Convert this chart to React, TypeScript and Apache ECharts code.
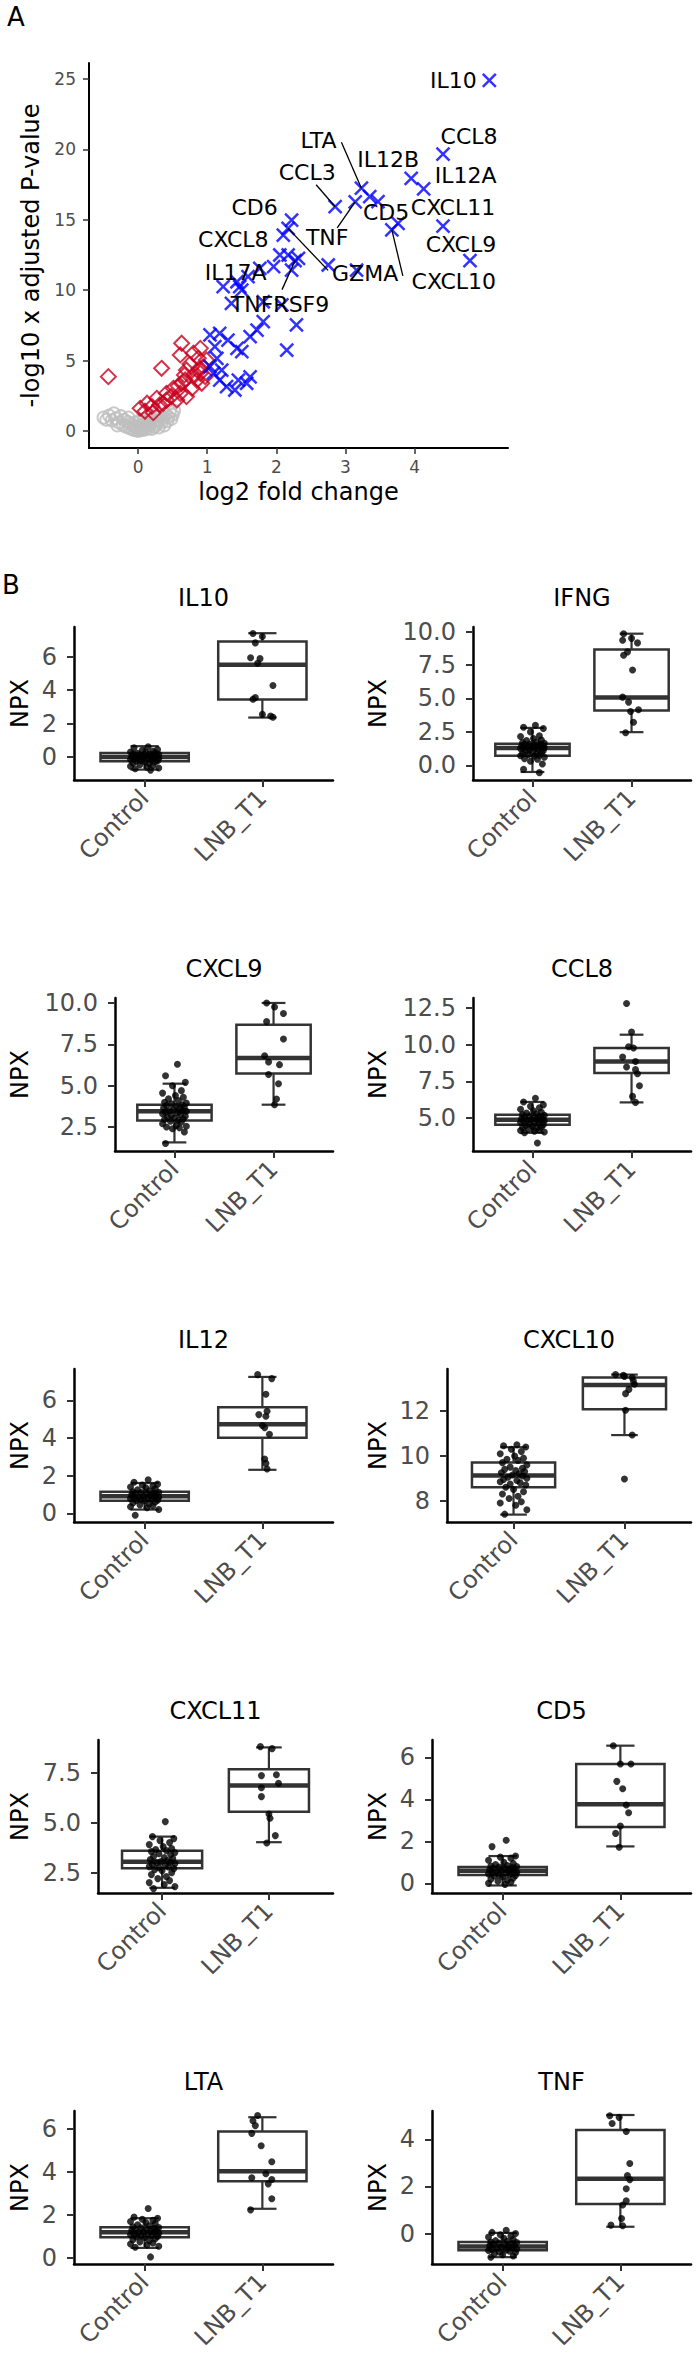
import React, { useEffect, useRef } from 'react';
import * as echarts from 'echarts';

const FONT = 'DejaVu Sans';
const TICK_GREY = '#4D4D4D';
const BOX_LINE = '#333333';

// ---------- Panel A: volcano plot (log2 fold change, -log10 adjusted p) ----------
// Not significant proteins (grey open circles)
const GREY_POINTS: number[][] = [
  [-0.5, 0.95], [-0.46, 0.8], [-0.42, 1.1], [-0.38, 0.75], [-0.35, 1.25], [-0.32, 0.9], [-0.28, 0.6],
  [-0.25, 1.05], [-0.22, 0.45], [-0.2, 0.8], [-0.18, 0.3], [-0.15, 0.65], [-0.12, 0.2], [-0.1, 0.5],
  [-0.08, 0.1], [-0.06, 0.35], [-0.04, 0.05], [-0.02, 0.25], [0.0, 0.0], [0.02, 0.15], [0.04, 0.4],
  [0.05, 0.05], [0.07, 0.25], [0.09, 0.55], [0.1, 0.1], [0.12, 0.35], [0.14, 0.7], [0.15, 0.2],
  [0.17, 0.45], [0.19, 0.85], [0.2, 0.15], [0.22, 0.6], [0.24, 0.3], [0.25, 1.0], [0.27, 0.5],
  [0.29, 0.75], [0.3, 0.25], [0.32, 1.1], [0.34, 0.6], [0.36, 0.9], [0.38, 0.4], [0.4, 1.2],
  [0.42, 0.7], [0.44, 1.0], [0.46, 1.35], [0.48, 0.85], [0.5, 1.15], [0.52, 1.45], [-0.3, 0.4],
  [-0.14, 0.95], [0.01, 0.7], [0.08, 0.85], [0.18, 1.1], [0.28, 1.25], [-0.05, 0.6],
];
// Significant, moderate fold change (red open diamonds)
const RED_POINTS: number[][] = [
  [-0.43, 3.86], [0.63, 6.23], [0.61, 5.4], [0.9, 5.87], [0.8, 5.52], [0.87, 5.16], [0.99, 5.04],
  [0.34, 4.45], [0.7, 4.33], [0.94, 4.57], [0.8, 3.98], [0.9, 4.1], [0.97, 3.86], [0.67, 3.98],
  [0.63, 3.39], [0.68, 3.62], [0.92, 3.39], [0.78, 3.03], [0.51, 3.03], [0.41, 2.67], [0.61, 2.67],
  [0.7, 2.44], [0.27, 2.32], [0.56, 2.2], [0.41, 2.2], [0.13, 1.97], [0.31, 1.85], [0.03, 1.61],
  [0.2, 1.75], [0.48, 2.45], [0.85, 3.6], [0.75, 4.75], [0.58, 3.2], [0.36, 1.95], [0.88, 4.4],
  [0.1, 1.4], [0.22, 1.3],
];
// Significant, large fold change (blue crosses), unlabelled
const BLUE_POINTS: number[][] = [
  [3.35, 16.65], [3.47, 16.3], [2.05, 12.5], [2.17, 12.5], [2.32, 12.26], [1.96, 11.67], [2.22, 11.43],
  [1.76, 11.55], [1.59, 10.96], [1.43, 10.6], [1.23, 10.25], [1.5, 10.0], [1.35, 9.07], [1.81, 9.18],
  [2.75, 11.79], [3.16, 11.43], [2.29, 7.53], [1.81, 7.76], [1.72, 7.17], [1.62, 6.7], [2.15, 5.75],
  [1.04, 6.82], [1.18, 6.94], [1.3, 6.46], [1.43, 5.87], [1.5, 5.63], [1.14, 5.16], [1.04, 4.57],
  [1.21, 4.33], [1.09, 4.1], [1.18, 3.62], [1.45, 3.62], [1.57, 3.39], [1.4, 2.91], [1.28, 3.15],
  [1.11, 5.99], [1.62, 3.85], [2.08, 8.95],
];
// Labelled hits
const HIT_GENES = ['IL10', 'CCL8', 'IL12B', 'IL12A', 'CXCL11', 'CXCL9', 'CXCL10', 'CD5', 'LTA', 'CCL3', 'TNF', 'CD6', 'CXCL8', 'GZMA', 'IL17A', 'TNFRSF9'];
const HIT_LOG2FC = [5.08, 4.41, 3.95, 4.13, 4.41, 4.8, 3.67, 3.76, 3.23, 2.85, 3.14, 2.22, 2.1, 2.17, 1.47, 2.27];
const HIT_LOGP = [24.9, 19.67, 17.95, 17.2, 14.56, 12.1, 14.28, 14.75, 17.25, 15.93, 16.28, 14.98, 13.92, 14.39, 10.25, 12.1];
const VOLCANO_X_TICKS = [0, 1, 2, 3, 4];
const VOLCANO_Y_TICKS = [0, 5, 10, 15, 20, 25];

// Repelled label placement (pixel offsets from the point, optional leader-line end)
const HIT_LABEL_LAYOUT: Record<string, { dx: number; dy: number; lx?: number; ly?: number }> = {
  IL10: { dx: -36, dy: 0 },
  CCL8: { dx: 26, dy: -18 },
  IL12B: { dx: -23, dy: -19 },
  IL12A: { dx: 42, dy: -13 },
  CXCL11: { dx: 10, dy: -19 },
  CXCL9: { dx: -9, dy: -16 },
  CXCL10: { dx: 62, dy: 52, lx: 11, ly: 46 },
  CD5: { dx: -12, dy: -11 },
  LTA: { dx: -43, dy: -48, lx: -20, ly: -46 },
  CCL3: { dx: -28, dy: -34, lx: -19, ly: -22 },
  TNF: { dx: -28, dy: 36, lx: -18, ly: 26 },
  CD6: { dx: -37, dy: -13 },
  CXCL8: { dx: -50, dy: 4 },
  GZMA: { dx: 77, dy: 45, lx: 40, ly: 42 },
  IL17A: { dx: -4, dy: -14 },
  TNFRSF9: { dx: -15, dy: 44, lx: -13, ly: 29 },
};

// ---------- Panel B: NPX boxplots per protein ----------
const GROUPS = ['Control', 'LNB_T1'];
const PROTEINS = ['IL10', 'IFNG', 'CXCL9', 'CCL8', 'IL12', 'CXCL10', 'CXCL11', 'CD5', 'LTA', 'TNF'];

// Box statistics per group: [lower whisker, Q1, median, Q3, upper whisker]
const IL10_BOX = [[-0.75, -0.25, 0.0, 0.25, 0.65], [2.36, 3.44, 5.52, 6.9, 7.4]];
const IFNG_BOX = [[-0.5, 0.72, 1.3, 1.62, 2.8], [2.48, 4.11, 5.07, 8.66, 9.85]];
const CXCL9_BOX = [[1.57, 2.9, 3.45, 3.85, 5.12], [3.85, 5.73, 6.67, 8.69, 10.0]];
const CCL8_BOX = [[4.0, 4.55, 4.89, 5.23, 6.1], [6.07, 8.07, 8.86, 9.77, 10.68]];
const IL12_BOX = [[0.2, 0.67, 0.9, 1.15, 1.61], [2.31, 4.01, 4.73, 5.63, 7.24]];
const CXCL10_BOX = [[7.38, 8.6, 9.13, 9.71, 10.39], [10.93, 12.08, 13.17, 13.5, 13.63]];
const CXCL11_BOX = [[1.74, 2.72, 3.04, 3.59, 4.3], [4.02, 5.54, 6.85, 7.67, 8.76]];
const CD5_BOX = [[-0.1, 0.4, 0.6, 0.78, 1.3], [1.76, 2.69, 3.77, 5.69, 6.56]];
const LTA_BOX = [[0.47, 0.96, 1.2, 1.43, 1.85], [2.29, 3.57, 4.04, 5.89, 6.55]];
const TNF_BOX = [[-1.0, -0.71, -0.55, -0.36, 0.03], [0.29, 1.26, 2.33, 4.39, 5.03]];

// Control NPX values
const IL10_CONTROL = [0.62, 0.55, 0.45, 0.4, 0.35, 0.3, 0.28, 0.25, 0.22, 0.2, 0.18, 0.15, 0.12, 0.1, 0.08, 0.05, 0.03, 0.02, 0.0, -0.02, -0.04, -0.05, -0.08, -0.1, -0.12, -0.15, -0.18, -0.2, -0.22, -0.25, -0.28, -0.3, -0.35, -0.4, -0.45, -0.5, -0.55, -0.6, -0.65, -0.7, -0.78, 0.0, 0.1, -0.1, 0.05];
const IFNG_CONTROL = [3.0, 2.85, 2.75, 2.5, 2.2, 2.15, 2.0, 1.9, 1.85, 1.75, 1.7, 1.65, 1.6, 1.58, 1.55, 1.5, 1.48, 1.45, 1.42, 1.4, 1.38, 1.35, 1.32, 1.3, 1.28, 1.25, 1.2, 1.15, 1.1, 1.05, 1.0, 0.95, 0.9, 0.85, 0.8, 0.75, 0.72, 0.7, 0.6, 0.5, 0.45, 0.3, 0.1, -0.3, -0.55];
const CXCL9_CONTROL = [6.3, 5.6, 5.2, 5.0, 4.7, 4.55, 4.4, 4.3, 4.2, 4.1, 4.0, 3.95, 3.9, 3.85, 3.8, 3.75, 3.7, 3.65, 3.6, 3.55, 3.5, 3.48, 3.45, 3.4, 3.35, 3.3, 3.25, 3.2, 3.15, 3.1, 3.05, 3.0, 2.95, 2.9, 2.85, 2.8, 2.7, 2.6, 2.55, 2.5, 2.45, 2.4, 2.2, 1.5];
const CCL8_CONTROL = [6.35, 6.1, 5.9, 5.8, 5.7, 5.6, 5.5, 5.4, 5.35, 5.3, 5.25, 5.2, 5.15, 5.1, 5.05, 5.0, 4.98, 4.95, 4.92, 4.9, 4.88, 4.85, 4.82, 4.8, 4.75, 4.7, 4.65, 4.6, 4.55, 4.5, 4.45, 4.4, 4.35, 4.3, 4.25, 4.2, 4.15, 4.1, 4.05, 4.0, 3.3];
const IL12_CONTROL = [1.78, 1.65, 1.55, 1.5, 1.45, 1.4, 1.35, 1.3, 1.25, 1.2, 1.15, 1.12, 1.1, 1.08, 1.05, 1.02, 1.0, 0.98, 0.95, 0.92, 0.9, 0.88, 0.85, 0.82, 0.8, 0.78, 0.75, 0.72, 0.7, 0.68, 0.65, 0.6, 0.55, 0.5, 0.45, 0.4, 0.35, 0.3, 0.2, -0.1];
const CXCL10_CONTROL = [10.5, 10.45, 10.4, 10.3, 10.2, 10.1, 10.0, 9.9, 9.85, 9.8, 9.7, 9.6, 9.5, 9.45, 9.4, 9.35, 9.3, 9.25, 9.2, 9.15, 9.1, 9.05, 9.0, 8.95, 8.9, 8.85, 8.8, 8.75, 8.7, 8.6, 8.5, 8.4, 8.3, 8.2, 8.1, 7.95, 7.9, 7.8, 7.6, 7.4];
const CXCL11_CONTROL = [5.05, 4.3, 4.2, 4.1, 4.0, 3.9, 3.8, 3.7, 3.65, 3.6, 3.55, 3.5, 3.45, 3.4, 3.3, 3.25, 3.2, 3.15, 3.1, 3.05, 3.02, 3.0, 2.95, 2.9, 2.85, 2.8, 2.78, 2.75, 2.7, 2.65, 2.6, 2.5, 2.4, 2.3, 2.2, 2.1, 2.0, 1.9, 1.8, 1.7];
const CD5_CONTROL = [2.05, 1.75, 1.3, 1.25, 1.2, 1.1, 1.0, 0.95, 0.9, 0.85, 0.82, 0.8, 0.78, 0.75, 0.72, 0.7, 0.68, 0.65, 0.62, 0.6, 0.58, 0.55, 0.52, 0.5, 0.48, 0.45, 0.42, 0.4, 0.38, 0.35, 0.3, 0.25, 0.2, 0.15, 0.1, 0.05, 0.0, -0.05];
const LTA_CONTROL = [2.3, 1.9, 1.85, 1.8, 1.75, 1.7, 1.65, 1.6, 1.55, 1.5, 1.45, 1.42, 1.4, 1.38, 1.35, 1.32, 1.3, 1.28, 1.25, 1.22, 1.2, 1.18, 1.15, 1.12, 1.1, 1.08, 1.05, 1.02, 1.0, 0.98, 0.95, 0.9, 0.85, 0.8, 0.75, 0.7, 0.65, 0.6, 0.55, 0.5, 0.05];
const TNF_CONTROL = [0.14, 0.05, 0.0, -0.05, -0.1, -0.15, -0.2, -0.25, -0.3, -0.33, -0.36, -0.38, -0.4, -0.42, -0.45, -0.48, -0.5, -0.52, -0.55, -0.57, -0.6, -0.62, -0.65, -0.68, -0.7, -0.72, -0.75, -0.78, -0.8, -0.85, -0.9, -0.95, -1.0];

// LNB_T1 NPX values as [horizontal jitter, NPX]
const IL10_LNB = [[-0.08, 7.38], [0.0, 7.2], [-0.06, 6.82], [-0.1, 5.93], [-0.02, 5.88], [-0.04, 5.6], [0.09, 4.27], [-0.06, 3.55], [-0.08, 3.45], [0.0, 2.55], [0.07, 2.45], [0.09, 2.38]];
const IFNG_LNB = [[-0.08, 9.85], [0.0, 9.5], [-0.09, 9.36], [0.06, 9.16], [-0.04, 8.49], [-0.08, 8.24], [0.01, 7.13], [-0.09, 5.1], [-0.03, 4.73], [0.07, 4.16], [-0.01, 4.03], [0.02, 3.22], [-0.06, 2.43]];
const CXCL9_LNB = [[-0.07, 10.0], [0.01, 9.76], [0.1, 9.36], [-0.07, 8.87], [0.1, 7.82], [-0.09, 6.81], [-0.05, 6.43], [0.06, 6.27], [-0.05, 5.67], [0.05, 5.12], [0.03, 4.19], [0.01, 3.85]];
const CCL8_LNB = [[-0.05, 12.8], [0.0, 10.86], [-0.03, 9.86], [0.02, 9.77], [-0.09, 9.16], [0.04, 8.86], [-0.05, 8.48], [0.04, 8.3], [0.06, 8.02], [0.08, 7.2], [0.01, 6.48], [0.04, 6.07]];
const IL12_LNB = [[-0.04, 7.36], [0.08, 7.15], [0.03, 6.32], [0.04, 5.42], [-0.03, 5.24], [0.03, 5.15], [0.0, 4.66], [0.02, 4.55], [0.06, 4.2], [0.02, 2.88], [0.03, 2.65], [0.04, 2.35]];
const CXCL10_LNB = [[-0.08, 13.63], [0.0, 13.55], [0.07, 13.5], [-0.01, 13.6], [0.09, 13.2], [0.08, 13.35], [0.04, 12.97], [0.01, 12.78], [0.01, 12.04], [0.07, 10.93], [0.0, 8.97]];
const CXCL11_LNB = [[-0.08, 8.8], [0.03, 8.7], [-0.07, 7.35], [0.07, 7.39], [0.09, 6.96], [-0.07, 6.74], [-0.07, 6.3], [0.0, 5.43], [0.01, 5.22], [0.06, 4.35], [-0.02, 3.98]];
const CD5_LNB = [[-0.06, 6.56], [0.0, 5.69], [0.09, 5.69], [-0.03, 4.86], [0.02, 4.51], [0.05, 3.73], [0.07, 3.36], [0.0, 2.73], [-0.04, 2.38], [-0.01, 1.72]];
const LTA_LNB = [[-0.04, 6.63], [-0.08, 6.39], [-0.06, 6.16], [-0.09, 5.8], [-0.01, 5.22], [0.08, 4.48], [0.03, 3.92], [-0.09, 3.73], [0.08, 3.65], [0.05, 3.45], [0.08, 2.76], [-0.1, 2.24]];
const TNF_LNB = [[-0.09, 5.0], [-0.01, 4.93], [-0.07, 4.67], [0.05, 4.33], [0.08, 2.97], [0.06, 2.46], [0.08, 2.29], [0.05, 1.9], [0.05, 1.39], [0.02, 1.21], [0.01, 0.64], [-0.08, 0.36], [0.02, 0.33]];

// Horizontal jitter for the control dots (category units)
const JITTER = [0.03, -0.09, 0.11, -0.02, 0.07, -0.12, 0.01, 0.09, -0.06, 0.04, -0.1, 0.12, -0.03, 0.08, -0.08, 0.02, 0.1, -0.11, 0.05, -0.01, 0.08, -0.05, 0.12, -0.09, 0.03, -0.12, 0.06, -0.03, 0.11, -0.07, 0.0, 0.09, -0.1, 0.04, -0.04, 0.07, -0.12, 0.02, 0.12, -0.08, 0.05, -0.02, 0.1, -0.09, 0.07, -0.04, 0.09, -0.06];

// Y axis scale per protein
const Y_MIN = [-1.37, -1.1, 1.05, 2.76, -0.46, 7.05, 1.48, -0.46, -0.28, -1.29];
const Y_MAX = [7.77, 10.35, 10.3, 13.18, 7.66, 13.88, 9.13, 6.83, 6.84, 5.2];
const Y_TICKS = [
  [0, 2, 4, 6], [0, 2.5, 5, 7.5, 10], [2.5, 5, 7.5, 10], [5, 7.5, 10, 12.5], [0, 2, 4, 6],
  [8, 10, 12], [2.5, 5, 7.5], [0, 2, 4, 6], [0, 2, 4, 6], [0, 2, 4],
];
const Y_DECIMALS = [0, 1, 1, 1, 0, 0, 1, 0, 0, 0];

const BOXES = [IL10_BOX, IFNG_BOX, CXCL9_BOX, CCL8_BOX, IL12_BOX, CXCL10_BOX, CXCL11_BOX, CD5_BOX, LTA_BOX, TNF_BOX];
const CONTROLS = [IL10_CONTROL, IFNG_CONTROL, CXCL9_CONTROL, CCL8_CONTROL, IL12_CONTROL, CXCL10_CONTROL, CXCL11_CONTROL, CD5_CONTROL, LTA_CONTROL, TNF_CONTROL];
const LNBS = [IL10_LNB, IFNG_LNB, CXCL9_LNB, CCL8_LNB, IL12_LNB, CXCL10_LNB, CXCL11_LNB, CD5_LNB, LTA_LNB, TNF_LNB];

// Panel placement: plot-area left edge per panel, 2 columns x 5 rows
const PANEL_LEFT = [74, 473, 115, 473, 74, 447, 98, 432, 74, 432];
const COL_RIGHT = [333, 691];
const COL_NAME_X = [20, 378];
const ROW_TITLE_Y = [598, 969, 1340, 1711, 2082];
const PANEL_HEIGHT = 153;

const CROSS = 'path://M0 0L10 10M10 0L0 10';

function textStyle(text: string, size: number, fill: string, align = 'center') {
  return {
    text,
    fill,
    fontSize: size,
    fontFamily: FONT,
    align,
    textAlign: align,
    verticalAlign: 'middle',
    textVerticalAlign: 'middle',
  };
}

function renderBox(_params: any, api: any) {
  const x = api.value(0);
  const lo = api.value(1);
  const q1 = api.value(2);
  const med = api.value(3);
  const q3 = api.value(4);
  const hi = api.value(5);
  const cx = api.coord([x, med])[0];
  const half = api.size([0.375, 0])[0];
  const cap = api.size([0.12, 0])[0];
  const yLo = api.coord([x, lo])[1];
  const yQ1 = api.coord([x, q1])[1];
  const yMed = api.coord([x, med])[1];
  const yQ3 = api.coord([x, q3])[1];
  const yHi = api.coord([x, hi])[1];
  const line = { stroke: BOX_LINE, lineWidth: 2.2 };
  return {
    type: 'group',
    children: [
      { type: 'line', shape: { x1: cx, y1: yQ3, x2: cx, y2: yHi }, style: line },
      { type: 'line', shape: { x1: cx, y1: yQ1, x2: cx, y2: yLo }, style: line },
      { type: 'line', shape: { x1: cx - cap, y1: yHi, x2: cx + cap, y2: yHi }, style: line },
      { type: 'line', shape: { x1: cx - cap, y1: yLo, x2: cx + cap, y2: yLo }, style: line },
      {
        type: 'rect',
        shape: { x: cx - half, y: yQ3, width: 2 * half, height: yQ1 - yQ3 },
        style: { fill: '#ffffff', stroke: BOX_LINE, lineWidth: 2.5 },
      },
      { type: 'line', shape: { x1: cx - half, y1: yMed, x2: cx + half, y2: yMed }, style: { stroke: BOX_LINE, lineWidth: 4.5 } },
    ],
  };
}

function renderHitLabel(params: any, api: any) {
  const gene = HIT_GENES[params.dataIndex];
  const p = api.coord([api.value(0), api.value(1)]);
  const lay = HIT_LABEL_LAYOUT[gene];
  const children: any[] = [];
  if (lay.lx !== undefined && lay.ly !== undefined) {
    children.push({
      type: 'line',
      shape: { x1: p[0], y1: p[1], x2: p[0] + lay.lx, y2: p[1] + lay.ly },
      style: { stroke: '#000000', lineWidth: 1.3 },
    });
  }
  children.push({
    type: 'text',
    x: p[0] + lay.dx,
    y: p[1] + lay.dy,
    style: textStyle(gene, 22, '#000000'),
  });
  return { type: 'group', children };
}

function buildOption() {
  const grids: any[] = [{ left: 89, top: 63, width: 419, height: 385 }];
  const xAxes: any[] = [
    {
      gridIndex: 0,
      type: 'value',
      min: -0.71,
      max: 5.35,
      splitLine: { show: false },
      axisLine: { onZero: false, lineStyle: { color: '#000000', width: 2 } },
      axisTick: { customValues: VOLCANO_X_TICKS, length: 6, lineStyle: { color: BOX_LINE, width: 1.5 } },
      axisLabel: { customValues: VOLCANO_X_TICKS, fontSize: 17, color: TICK_GREY, fontFamily: FONT, margin: 10 },
      name: 'log2 fold change',
      nameLocation: 'middle',
      nameGap: 32,
      nameTextStyle: { fontSize: 24, color: '#000000', fontFamily: FONT },
    },
  ];
  const yAxes: any[] = [
    {
      gridIndex: 0,
      type: 'value',
      min: -1.21,
      max: 26.14,
      splitLine: { show: false },
      axisLine: { onZero: false, lineStyle: { color: '#000000', width: 2 } },
      axisTick: { customValues: VOLCANO_Y_TICKS, length: 6, lineStyle: { color: BOX_LINE, width: 1.5 } },
      axisLabel: { customValues: VOLCANO_Y_TICKS, fontSize: 17, color: TICK_GREY, fontFamily: FONT, margin: 13 },
      name: '-log10 x adjusted P-value',
      nameLocation: 'middle',
      nameRotate: 90,
      nameGap: 44,
      nameTextStyle: { fontSize: 24, color: '#000000', fontFamily: FONT },
    },
  ];
  const series: any[] = [
    {
      type: 'scatter',
      xAxisIndex: 0,
      yAxisIndex: 0,
      data: GREY_POINTS,
      symbol: 'circle',
      symbolSize: 12,
      itemStyle: { color: 'transparent', borderColor: '#BEBEBE', borderWidth: 2 },
      z: 2,
    },
    {
      type: 'scatter',
      xAxisIndex: 0,
      yAxisIndex: 0,
      data: RED_POINTS,
      symbol: 'diamond',
      symbolSize: 15,
      itemStyle: { color: 'transparent', borderColor: '#C8001E', borderWidth: 2 },
      z: 3,
    },
    {
      type: 'scatter',
      xAxisIndex: 0,
      yAxisIndex: 0,
      data: BLUE_POINTS.concat(HIT_LOG2FC.map((fc, i) => [fc, HIT_LOGP[i]])),
      symbol: CROSS,
      symbolSize: 13,
      itemStyle: { color: 'transparent', borderColor: '#0000FF', borderWidth: 2.5 },
      z: 4,
    },
    {
      type: 'custom',
      xAxisIndex: 0,
      yAxisIndex: 0,
      data: HIT_LOG2FC.map((fc, i) => [fc, HIT_LOGP[i]]),
      renderItem: renderHitLabel,
      z: 5,
    },
  ];
  const graphics: any[] = [
    { type: 'text', x: 16, y: 17, style: textStyle('A', 26, '#000000') },
    { type: 'text', x: 11, y: 585, style: textStyle('B', 26, '#000000') },
  ];

  PROTEINS.forEach((name, i) => {
    const g = i + 1;
    const col = i % 2;
    const row = Math.floor(i / 2);
    const left = PANEL_LEFT[i];
    const width = COL_RIGHT[col] - left;
    const titleY = ROW_TITLE_Y[row];
    const top = titleY + 29;
    grids.push({ left, top, width, height: PANEL_HEIGHT });
    graphics.push({ type: 'text', x: left + width / 2, y: titleY, style: textStyle(name, 24, '#000000') });

    xAxes.push({
      gridIndex: g,
      type: 'value',
      min: 0.4,
      max: 2.6,
      splitLine: { show: false },
      axisLine: { onZero: false, lineStyle: { color: '#000000', width: 2.5 } },
      axisTick: { customValues: [1, 2], length: 7, lineStyle: { color: BOX_LINE, width: 2 } },
      axisLabel: {
        customValues: [1, 2],
        rotate: 45,
        margin: 14,
        fontSize: 24,
        color: TICK_GREY,
        fontFamily: FONT,
        formatter: (v: number) => GROUPS[Math.round(v) - 1],
      },
    });
    const dec = Y_DECIMALS[i];
    yAxes.push({
      gridIndex: g,
      type: 'value',
      min: Y_MIN[i],
      max: Y_MAX[i],
      splitLine: { show: false },
      axisLine: { onZero: false, lineStyle: { color: '#000000', width: 2.5 } },
      axisTick: { customValues: Y_TICKS[i], length: 7, lineStyle: { color: BOX_LINE, width: 2 } },
      axisLabel: {
        customValues: Y_TICKS[i],
        margin: 17,
        fontSize: 24,
        color: TICK_GREY,
        fontFamily: FONT,
        formatter: (v: number) => v.toFixed(dec),
      },
      name: 'NPX',
      nameLocation: 'middle',
      nameRotate: 90,
      nameGap: left - COL_NAME_X[col] - 12,
      nameTextStyle: { fontSize: 24, color: '#000000', fontFamily: FONT },
    });

    series.push({
      type: 'custom',
      xAxisIndex: g,
      yAxisIndex: g,
      data: BOXES[i].map((s, k) => [k + 1, ...s]),
      renderItem: renderBox,
      z: 2,
    });
    const dots = CONTROLS[i]
      .map((v, k) => [1 + JITTER[k % JITTER.length], v])
      .concat(LNBS[i].map(([j, v]) => [2 + j, v]));
    series.push({
      type: 'scatter',
      xAxisIndex: g,
      yAxisIndex: g,
      data: dots,
      symbolSize: 7,
      itemStyle: { color: '#000000' },
      z: 3,
    });
  });

  return {
    animation: false,
    backgroundColor: '#ffffff',
    textStyle: { fontFamily: FONT },
    grid: grids,
    xAxis: xAxes,
    yAxis: yAxes,
    series,
    graphic: graphics,
  };
}

export default function App() {
  const ref = useRef<HTMLDivElement>(null);
  useEffect(() => {
    if (!ref.current) return;
    const chart = echarts.init(ref.current, null, { renderer: 'svg' });
    chart.setOption(buildOption() as any);
    return () => chart.dispose();
  }, []);
  return (
    <div
      ref={ref}
      style={{ position: 'absolute', left: 0, top: 0, width: 696, height: 2362, background: '#ffffff' }}
    />
  );
}
